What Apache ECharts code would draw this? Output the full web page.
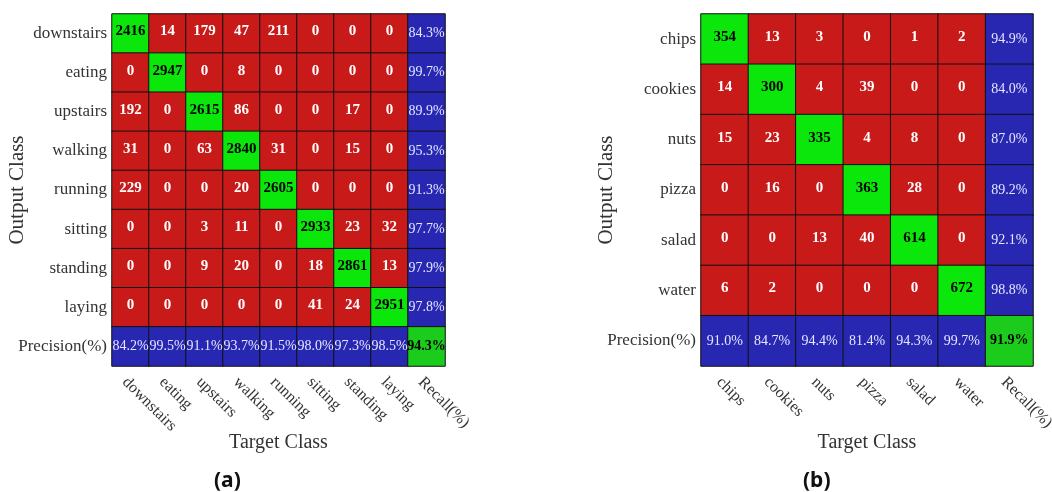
<!DOCTYPE html>
<html>
<head>
<meta charset="utf-8">
<script src="https://cdn.jsdelivr.net/npm/echarts@6/dist/echarts.min.js"></script>
<style>
html,body{margin:0;padding:0;background:#fff;}
#chart{width:1052px;height:492px;}
</style>
</head>
<body>
<div id="chart"></div>
<script>
// Panel (a): activity classes
const classesA = ['downstairs', 'eating', 'upstairs', 'walking', 'running', 'sitting', 'standing', 'laying'];
const countsA = [
  [2416, 14, 179, 47, 211, 0, 0, 0],
  [0, 2947, 0, 8, 0, 0, 0, 0],
  [192, 0, 2615, 86, 0, 0, 17, 0],
  [31, 0, 63, 2840, 31, 0, 15, 0],
  [229, 0, 0, 20, 2605, 0, 0, 0],
  [0, 0, 3, 11, 0, 2933, 23, 32],
  [0, 0, 9, 20, 0, 18, 2861, 13],
  [0, 0, 0, 0, 0, 41, 24, 2951]
];
const recallA = [84.3, 99.7, 89.9, 95.3, 91.3, 97.7, 97.9, 97.8];
const precisionA = [84.2, 99.5, 91.1, 93.7, 91.5, 98.0, 97.3, 98.5];
const overallA = 94.3;

// Panel (b): food classes
const classesB = ['chips', 'cookies', 'nuts', 'pizza', 'salad', 'water'];
const countsB = [
  [354, 13, 3, 0, 1, 2],
  [14, 300, 4, 39, 0, 0],
  [15, 23, 335, 4, 8, 0],
  [0, 16, 0, 363, 28, 0],
  [0, 0, 13, 40, 614, 0],
  [6, 2, 0, 0, 0, 672]
];
const recallB = [94.9, 84.0, 87.0, 89.2, 92.1, 98.8];
const precisionB = [91.0, 84.7, 94.4, 81.4, 94.3, 99.7];
const overallB = 91.9;

const RED = '#c91a1a', GREEN = '#0be60b', BLUE = '#2727b2', CORNER = '#1ccc1c';
const SERIF = 'Liberation Serif';

function buildCells(counts, recall, precision, overall, fs, pfs) {
  const n = counts.length;
  const cells = [];
  const txt = (color, bold, size, dy) => ({
    color: color, fontWeight: bold ? 'bold' : 'normal', fontFamily: SERIF, fontSize: size,
    offset: [0, dy || 0]
  });
  for (let r = 0; r < n; r++) {
    for (let c = 0; c < n; c++) {
      const diag = r === c;
      cells.push({
        value: [c, r, counts[r][c]],
        itemStyle: { color: diag ? GREEN : RED },
        label: txt(diag ? '#000' : '#fff', true, fs, -2)
      });
    }
    cells.push({
      value: [n, r, recall[r]], pct: true,
      itemStyle: { color: BLUE },
      label: txt('#e6e6ff', false, pfs)
    });
  }
  for (let c = 0; c < n; c++) {
    cells.push({
      value: [c, n, precision[c]], pct: true,
      itemStyle: { color: BLUE },
      label: txt('#e6e6ff', false, pfs)
    });
  }
  cells.push({
    value: [n, n, overall], pct: true,
    itemStyle: { color: CORNER },
    label: txt('#000', true, pfs)
  });
  return cells;
}

function axisPair(idx, classes) {
  const xAxis = {
    type: 'category', gridIndex: idx,
    data: classes.concat(['Recall(%)']),
    position: 'bottom',
    axisLine: { show: false }, axisTick: { show: false }, splitLine: { show: false },
    axisLabel: {
      rotate: -45, verticalAlign: 'top', fontFamily: SERIF, fontSize: 16, color: '#333', margin: 8
    },
    name: 'Target Class', nameLocation: 'middle', nameGap: 67, nameMoveOverlap: false,
    nameTextStyle: { fontFamily: SERIF, fontSize: 20, color: '#333' }
  };
  const yAxis = {
    type: 'category', gridIndex: idx, inverse: true,
    data: classes.concat(['Precision(%)']),
    axisLine: { show: false }, axisTick: { show: false }, splitLine: { show: false },
    axisLabel: { fontFamily: SERIF, fontSize: 17, color: '#333', margin: 5 },
    name: 'Output Class', nameLocation: 'middle', nameGap: 84, nameRotate: 90, nameMoveOverlap: false,
    nameTextStyle: { fontFamily: SERIF, fontSize: 21, color: '#333' }
  };
  return [xAxis, yAxis];
}

const [xA, yA] = axisPair(0, classesA);
const [xB, yB] = axisPair(1, classesB);

function heatSeries(idx, cells) {
  return {
    type: 'heatmap', xAxisIndex: idx, yAxisIndex: idx,
    data: cells,
    itemStyle: { borderColor: '#111', borderWidth: 1 },
    label: {
      show: true,
      formatter: p => p.data.pct ? p.data.value[2].toFixed(1) + '%' : String(p.data.value[2])
    },
    emphasis: { disabled: true }
  };
}

const chart = echarts.init(document.getElementById('chart'), null, { renderer: 'canvas' });
chart.setOption({
  backgroundColor: '#fff',
  animation: false,
  grid: [
    { left: 112, top: 14, width: 333, height: 352, outerBoundsMode: 'none', containLabel: false },
    { left: 701, top: 14, width: 332, height: 352, outerBoundsMode: 'none', containLabel: false }
  ],
  xAxis: [xA, xB],
  yAxis: [yA, yB],
  series: [
    heatSeries(0, buildCells(countsA, recallA, precisionA, overallA, 15, 14)),
    heatSeries(1, buildCells(countsB, recallB, precisionB, overallB, 15, 14))
  ],
  graphic: [
    { type: 'text', left: 214, top: 471, style: { text: '(a)', font: 'bold 21px "Noto Sans"', fill: '#111' } },
    { type: 'text', left: 803, top: 471, style: { text: '(b)', font: 'bold 21px "Noto Sans"', fill: '#111' } }
  ]
});
</script>
</body>
</html>
